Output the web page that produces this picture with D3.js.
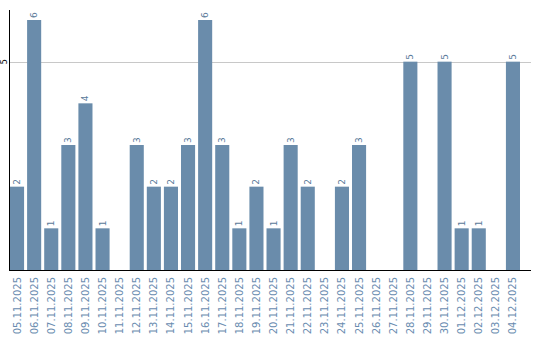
<!DOCTYPE html>
<html>
<head>
<meta charset="utf-8">
<script src="https://cdn.jsdelivr.net/npm/d3@7"></script>
<style>
body { margin: 0; background: #fff; }
svg { display: block; font-family: "DejaVu Sans", Verdana, sans-serif; }
</style>
</head>
<body>
<svg id="chart"></svg>
<script>
const dates = ["05.11.2025", "06.11.2025", "07.11.2025", "08.11.2025", "09.11.2025", "10.11.2025",
	"11.11.2025", "12.11.2025", "13.11.2025", "14.11.2025", "15.11.2025", "16.11.2025",
	"17.11.2025", "18.11.2025", "19.11.2025", "20.11.2025", "21.11.2025", "22.11.2025",
	"23.11.2025", "24.11.2025", "25.11.2025", "26.11.2025", "27.11.2025", "28.11.2025",
	"29.11.2025", "30.11.2025", "01.12.2025", "02.12.2025", "03.12.2025", "04.12.2025"];
const counts = [2, 6, 1, 3, 4, 1, 0, 3, 2, 2, 3, 6, 3, 1, 2, 1, 3, 2, 0, 2, 3, 0, 0, 5, 0, 5, 1, 1, 0, 5];
const yTicks = [5];

const width = 540, height = 340;
const mLeft = 10, mBottom = 270, mTop = 20, mRight = 531;

const svg = d3.select("#chart").attr("width", width).attr("height", height);

const x = d3.scaleBand().domain(dates).range([mLeft, mLeft + 17 * dates.length]).paddingInner(3 / 17).paddingOuter(0);
const y = d3.scaleLinear().domain([0, 6]).range([mBottom, mTop]);

// grid line
svg.selectAll(".grid")
	.data(yTicks)
	.enter()
	.append("line")
	.attr("x1", mLeft)
	.attr("x2", mRight)
	.attr("y1", d => Math.round(y(d)) + 0.5)
	.attr("y2", d => Math.round(y(d)) + 0.5)
	.attr("stroke", "#c8c8c8");

const data = dates.map((d, i) => ({ date: d, value: counts[i] }));

svg.selectAll(".bar")
	.data(data.filter(d => d.value > 0))
	.enter()
	.append("rect")
	.attr("x", d => x(d.date))
	.attr("y", d => y(d.value))
	.attr("width", x.bandwidth())
	.attr("height", d => mBottom - y(d.value))
	.attr("fill", "#6a8cab");

// value labels
svg.selectAll(".val")
	.data(data.filter(d => d.value > 0))
	.enter()
	.append("text")
	.attr("transform", d => `translate(${x(d.date) + x.bandwidth() / 2 + 3},${y(d.value) - 2}) rotate(-90)`)
	.attr("text-anchor", "start")
	.attr("font-size", "9px")
	.attr("fill", "#5a7a9a")
	.text(d => d.value);

// axes lines
svg.append("line").attr("x1", mLeft - 0.5).attr("x2", mLeft - 0.5).attr("y1", 10).attr("y2", mBottom + 1).attr("stroke", "#000");
svg.append("line").attr("x1", mLeft - 1).attr("x2", mRight).attr("y1", mBottom + 0.5).attr("y2", mBottom + 0.5).attr("stroke", "#000");

// y tick labels
svg.selectAll(".ytick")
	.data(yTicks)
	.enter()
	.append("text")
	.attr("transform", d => `translate(7,${y(d)}) rotate(-90)`)
	.attr("text-anchor", "middle")
	.attr("font-size", "8px")
	.attr("fill", "#000")
	.text(d => d);

// x tick labels
svg.selectAll(".xtick")
	.data(dates)
	.enter()
	.append("text")
	.attr("transform", d => `translate(${x(d) + x.bandwidth() / 2 + 3.5},${mBottom + 7}) rotate(-90)`)
	.attr("text-anchor", "end")
	.attr("font-size", "10px")
	.attr("fill", "#6a8cb0")
	.text(d => d);
</script>
</body>
</html>
